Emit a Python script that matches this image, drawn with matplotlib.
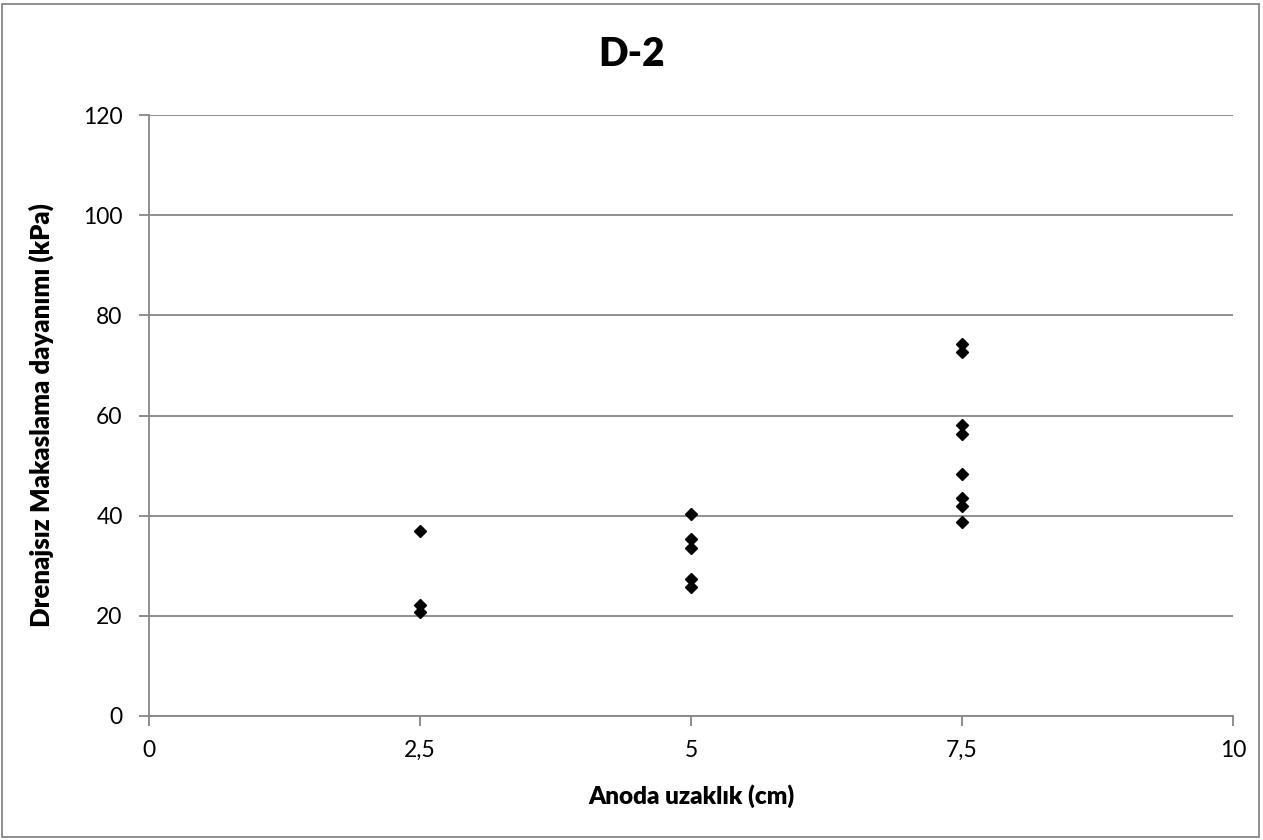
import matplotlib
matplotlib.use("Agg")
import matplotlib.pyplot as plt
from matplotlib.patches import Rectangle

plt.rcParams['font.family'] = ['Lato', 'DejaVu Sans']

# values
x_25 = [2.5, 2.5, 2.5]
y_25 = [37.0, 22.2, 20.8]

x_5 = [5, 5, 5, 5, 5]
y_5 = [40.3, 35.3, 33.5, 27.3, 25.7]

x_75 = [7.5, 7.5, 7.5, 7.5, 7.5, 7.5, 7.5, 7.5]
y_75 = [74.3, 72.6, 58.1, 56.4, 48.3, 43.6, 41.9, 38.7]

xticks = [0, 2.5, 5, 7.5, 10]
xticklabels = ['0', '2,5', '5', '7,5', '10']
yticks = [0, 20, 40, 60, 80, 100, 120]

grey = '#868686'

fig = plt.figure(figsize=(12.63, 8.40), dpi=100)
ax = fig.add_axes([149/1263, 1 - 716/840, (1233-149)/1263, (716-115)/840])

xs = x_25 + x_5 + x_75
ys = y_25 + y_5 + y_75
ax.plot(xs, ys, linestyle='none', marker='D', markersize=6.5, color='black')

ax.set_xlim(0, 10)
ax.set_ylim(0, 120)
ax.set_xticks(xticks)
ax.set_xticklabels(xticklabels)
ax.set_yticks(yticks)
ax.grid(True, axis='y', color=grey, linewidth=1.3)
ax.set_axisbelow(True)

for s in ['top', 'right']:
    ax.spines[s].set_visible(False)
for s in ['left', 'bottom']:
    ax.spines[s].set_color(grey)
    ax.spines[s].set_linewidth(1.3)

ax.tick_params(axis='both', direction='out', length=7, width=1.3, color=grey,
               labelsize=16.5)
ax.tick_params(axis='y', pad=12)
ax.tick_params(axis='x', pad=10)

ax.set_xlabel('Anoda uzaklık (cm)', fontsize=17.5, fontweight='heavy', labelpad=17)
ax.set_ylabel('Drenajsız Makaslama dayanımı (kPa)', fontsize=18.5,
              fontweight='heavy', labelpad=21)
fig.text(0.5, 1 - 55/840, 'D-2', ha='center', va='center', fontsize=28,
         fontweight='heavy')

fig.patches.append(Rectangle((2/1263, 3/840), 1257/1263, 833/840,
                             transform=fig.transFigure, fill=False,
                             edgecolor=grey, linewidth=1.3))

fig.savefig('out.png', dpi=100)
